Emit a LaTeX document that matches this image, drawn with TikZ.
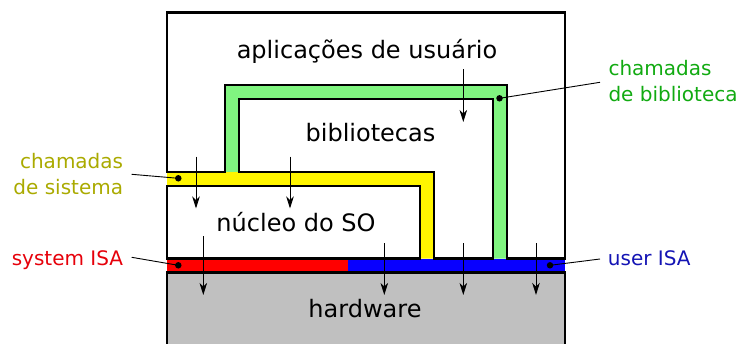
\documentclass[tikz,border=0pt]{standalone}
\usepackage{fontspec}
\setmainfont{DejaVu Sans}
\usetikzlibrary{arrows.meta}
\definecolor{bandgreen}{RGB}{128,245,128}
\definecolor{bandyellow}{RGB}{255,245,0}
\definecolor{bandred}{RGB}{255,0,0}
\definecolor{bandblue}{RGB}{8,0,255}
\definecolor{hwgray}{RGB}{192,192,192}
\definecolor{txtolive}{RGB}{170,170,0}
\definecolor{txtgreen}{RGB}{17,170,17}
\definecolor{txtred}{RGB}{230,0,10}
\definecolor{txtblue}{RGB}{20,20,180}
\tikzset{
  layer/.style={draw=black,line width=2.6pt,line join=miter},
  band/.style={draw=none},
  bigtxt/.style={inner sep=0pt,anchor=base,font=\fontsize{24}{28}\selectfont},
  sidetxt/.style={inner sep=0pt,font=\fontsize{20}{26}\selectfont},
  callarrow/.style={line width=0.9pt,-{Stealth[length=12pt,width=7.5pt,inset=3.5pt]}},
  leader/.style={line width=0.9pt},
  dot/.style={circle,fill=black,inner sep=0pt,minimum size=6.5pt}
}
\begin{document}
\begin{tikzpicture}[x=1pt,y=-1pt]
\useasboundingbox (0,0) rectangle (739,343);
\clip (0,0) rectangle (739,343);
% bands
\fill[band,bandgreen] (225,85) -- (507,85) -- (507,258.5) -- (493,258.5) -- (493,99) -- (239,99) -- (239,172) -- (225,172) -- cycle;
\fill[band,bandyellow] (167,172) -- (434,172) -- (434,258.5) -- (420,258.5) -- (420,186) -- (167,186) -- cycle;
\fill[band,bandred] (167,258.5) rectangle (348,272.5);
\fill[band,bandblue] (348,258.5) rectangle (565,272.5);
% layers
\draw[layer,fill=white] (167,172) -- (167,12.5) -- (565,12.5) -- (565,258.5) -- (507,258.5) -- (507,85) -- (225,85) -- (225,172) -- cycle;
\draw[layer,fill=white] (239,172) -- (239,99) -- (493,99) -- (493,258.5) -- (434,258.5) -- (434,172) -- cycle;
\draw[layer,fill=white] (167,186) rectangle (420,258.5);
\draw[layer,fill=hwgray] (167,272.5) rectangle (565,360);
% texts
\node[bigtxt] (apps) at (367,58.3) {aplicações de usuário};
\node[bigtxt] (libs) at (370.5,141.7) {bibliotecas};
\node[bigtxt] (kernel) at (296,231) {núcleo do SO};
\node[bigtxt] (hw) at (365,317.3) {hardware};
\node[sidetxt,anchor=base east,align=right,text=txtolive] (lblsys) at (123.3,194) {chamadas\\de sistema};
\node[sidetxt,anchor=base east,text=txtred] (lblsisa) at (123.3,265) {system ISA};
\node[sidetxt,anchor=base west,align=left,text=txtgreen] (lbllib) at (608.3,101.7) {chamadas\\de biblioteca};
\node[sidetxt,anchor=base west,text=txtblue] (lbluisa) at (607.7,265) {user ISA};
% dots and leaders
\node[dot] (dsys) at (178.3,178.3) {};
\node[dot] (dsisa) at (178.3,265.3) {};
\node[dot] (dlib) at (499.5,98.3) {};
\node[dot] (duisa) at (550,265.3) {};
\coordinate (lsys) at (131.7,174.3);
\coordinate (lsisa) at (131.7,257.3);
\coordinate (llib) at (600,82.3);
\coordinate (luisa) at (600,259);
\draw[leader] (lsys) -- (dsys.center);
\draw[leader] (lsisa) -- (dsisa.center);
\draw[leader] (llib) -- (dlib.center);
\draw[leader] (luisa) -- (duisa.center);
% arrows
\coordinate (a1s) at (463.3,69.3);   \coordinate (a1e) at (463.3,122);
\coordinate (a2s) at (196,156.7);    \coordinate (a2e) at (196,208.5);
\coordinate (a3s) at (290,156.7);    \coordinate (a3e) at (290,208.5);
\coordinate (a4s) at (203.3,236);    \coordinate (a4e) at (203.3,295);
\coordinate (a5s) at (384.3,243.3);  \coordinate (a5e) at (384.3,295);
\coordinate (a6s) at (463.3,243.3);  \coordinate (a6e) at (463.3,295);
\coordinate (a7s) at (536,243.3);    \coordinate (a7e) at (536,295);
\foreach \i in {1,...,7} { \draw[callarrow] (a\i s) -- (a\i e); }
\end{tikzpicture}
\end{document}
